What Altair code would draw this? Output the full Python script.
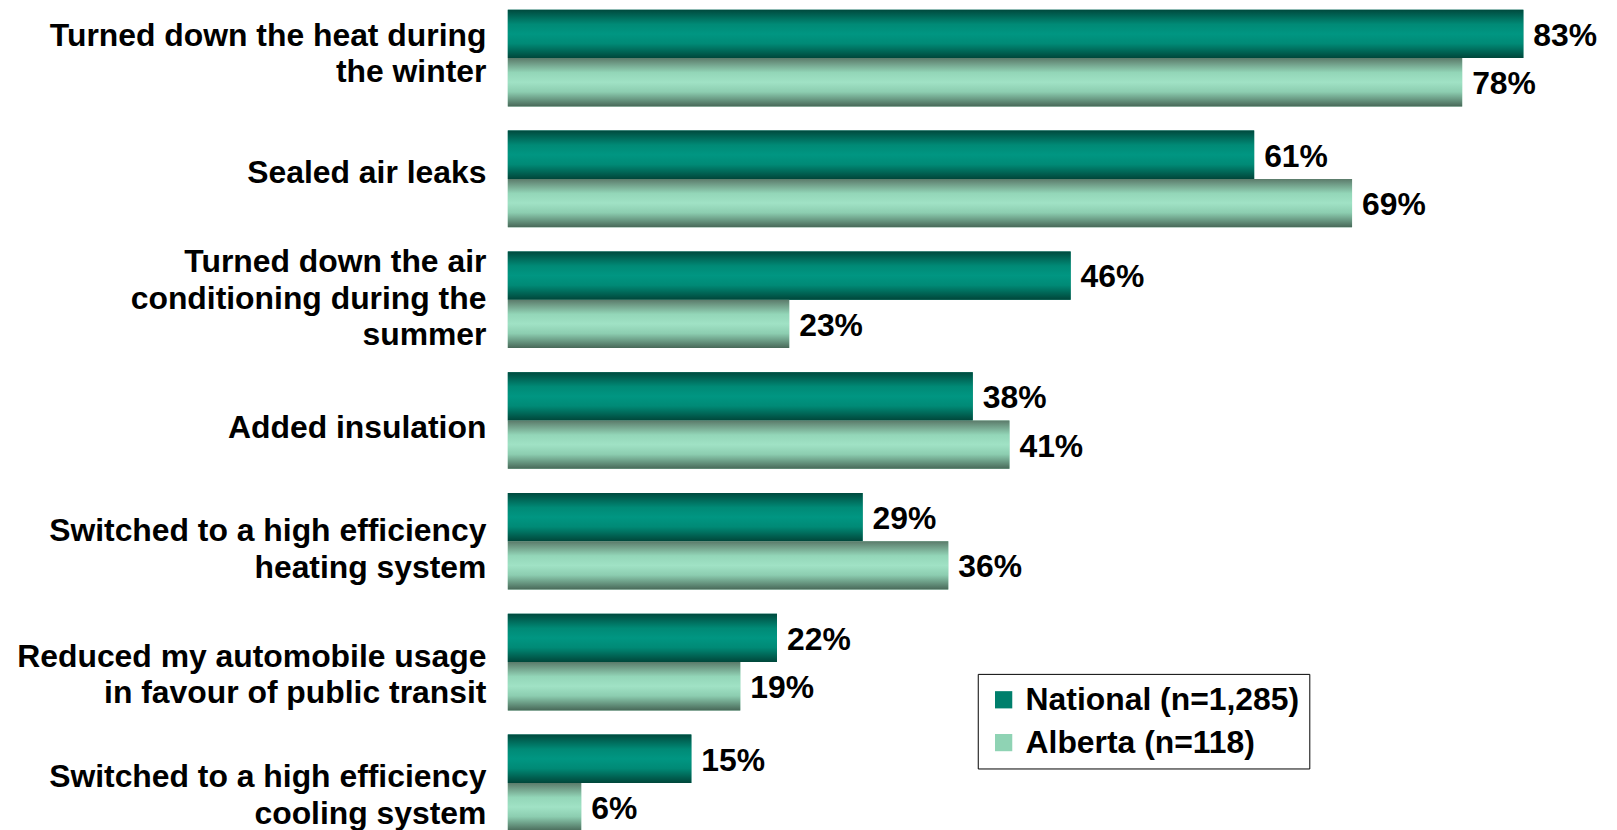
import altair as alt
import pandas as pd

categories = [
    "Turned down the heat during\nthe winter",
    "Sealed air leaks",
    "Turned down the air\nconditioning during the\nsummer",
    "Added insulation",
    "Switched to a high efficiency\nheating system",
    "Reduced my automobile usage\nin favour of public transit",
    "Switched to a high efficiency\ncooling system",
]
series_names = ["National (n=1,285)", "Alberta (n=118)"]
national = [83, 61, 46, 38, 29, 22, 15]
alberta = [78, 69, 23, 41, 36, 19, 6]

rows = []
for c, n, a in zip(categories, national, alberta):
    rows.append({"category": c, "series": series_names[0], "value": n})
    rows.append({"category": c, "series": series_names[1], "value": a})
df = pd.DataFrame(rows)

FONT = "Liberation Sans"
FS = 32
LH = 37
# per-label vertical nudges (px) to follow the reference's label placement
label_nudge = [-4, -6, -1, 8, 8, 13, 13]

conds = []
for cat, nudge in zip(categories, label_nudge):
    nlines = cat.count("\n") + 1
    esc = cat.replace("\n", "\\n").replace("'", "\\'")
    conds.append({
        "test": f"datum.value == '{esc}'",
        "value": -(nlines - 1) * LH / 2 + nudge,
    })
label_offset = {"condition": conds, "value": 0}

grad_nat = alt.Gradient(
    gradient="linear", x1=0, y1=0, x2=0, y2=1,
    stops=[
        alt.GradientStop(color="#004a3e", offset=0),
        alt.GradientStop(color="#008a76", offset=0.3),
        alt.GradientStop(color="#009682", offset=0.5),
        alt.GradientStop(color="#008a76", offset=0.7),
        alt.GradientStop(color="#00463a", offset=1),
    ],
)
grad_alb = alt.Gradient(
    gradient="linear", x1=0, y1=0, x2=0, y2=1,
    stops=[
        alt.GradientStop(color="#5b7a6a", offset=0),
        alt.GradientStop(color="#93d6b8", offset=0.3),
        alt.GradientStop(color="#a0e2c5", offset=0.5),
        alt.GradientStop(color="#8ccdb0", offset=0.7),
        alt.GradientStop(color="#486858", offset=1),
    ],
)

base = alt.Chart(df).encode(
    y=alt.Y(
        "category:N",
        sort=categories,
        scale=alt.Scale(paddingInner=0.2, paddingOuter=0),
        axis=alt.Axis(
            title=None, domain=False, ticks=False, grid=False,
            labelFont=FONT, labelFontSize=FS, labelFontWeight="bold",
            labelColor="black", labelPadding=22, labelLimit=0,
            labelExpr="split(datum.label, '\\n')", labelLineHeight=LH,
            labelOffset=label_offset,
        ),
    ),
    yOffset=alt.YOffset(
        "series:N", sort=series_names,
        scale=alt.Scale(domain=series_names, paddingInner=0, paddingOuter=0),
    ),
    x=alt.X("value:Q", scale=alt.Scale(domain=[0, 90]), axis=None),
)

legend_bars = base.mark_bar().encode(
    color=alt.Color(
        "series:N",
        scale=alt.Scale(domain=series_names, range=["#007f6c", "#8fd3b4"]),
        legend=alt.Legend(
            title=None, orient="none", legendX=472, legendY=667,
            strokeColor="black", padding=10, fillColor="white",
            symbolType="square", symbolSize=300, symbolStrokeWidth=0,
            symbolOpacity=1, labelFont=FONT, labelFontSize=FS,
            labelFontWeight="bold", labelColor="black", rowPadding=11,
            labelOffset=6, labelLimit=0,
        ),
    )
)

nat_bars = base.transform_filter(
    alt.datum.series == series_names[0]
).mark_bar(color=grad_nat)
alb_bars = base.transform_filter(
    alt.datum.series == series_names[1]
).mark_bar(color=grad_alb)

labels = base.transform_calculate(
    label="datum.value + '%'"
).mark_text(
    align="left", baseline="middle", dx=10, dy=2, font=FONT, fontSize=FS,
    fontWeight="bold", color="black",
).encode(text="label:N")

chart = alt.layer(legend_bars, nat_bars, alb_bars, labels).properties(
    width=1106, height=825,
    autosize=alt.AutoSizeParams(type="none"),
    padding={"left": 502, "top": 0, "right": 0, "bottom": 0},
).configure_view(stroke=None)

chart.save("out.html", embed_options={"renderer": "svg", "actions": False})
